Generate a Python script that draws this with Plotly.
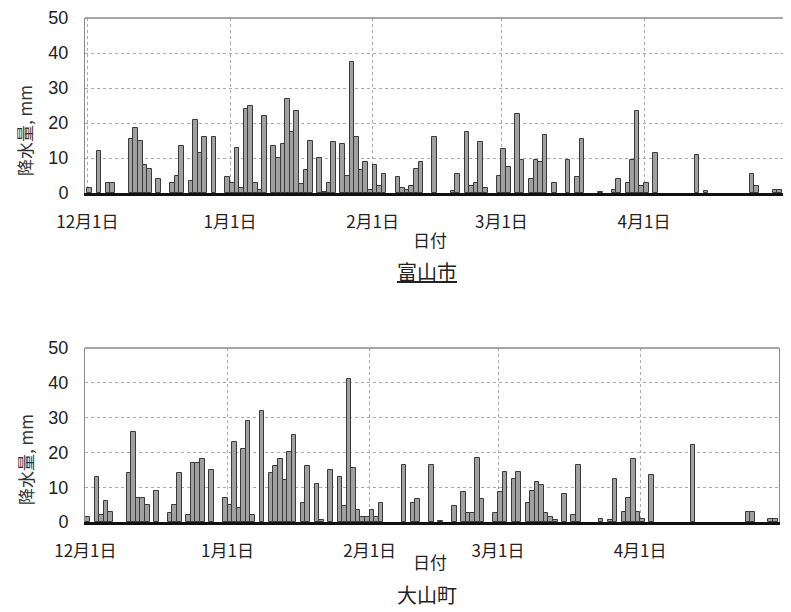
import plotly.graph_objects as go

# ---- data (daily precipitation, mm) ----
toyama_dates = [
    "2012-12-01", "2012-12-03", "2012-12-05", "2012-12-06", "2012-12-10", "2012-12-11",
    "2012-12-12", "2012-12-13", "2012-12-14", "2012-12-16", "2012-12-19", "2012-12-20",
    "2012-12-21", "2012-12-23", "2012-12-24", "2012-12-25", "2012-12-26", "2012-12-28",
    "2012-12-31", "2013-01-01", "2013-01-02", "2013-01-03", "2013-01-04", "2013-01-05",
    "2013-01-06", "2013-01-07", "2013-01-08", "2013-01-10", "2013-01-11", "2013-01-12",
    "2013-01-13", "2013-01-14", "2013-01-15", "2013-01-16", "2013-01-17", "2013-01-18",
    "2013-01-20", "2013-01-21", "2013-01-22", "2013-01-23", "2013-01-25", "2013-01-26",
    "2013-01-27", "2013-01-28", "2013-01-29", "2013-01-30", "2013-01-31", "2013-02-01",
    "2013-02-02", "2013-02-03", "2013-02-06", "2013-02-07", "2013-02-08", "2013-02-09",
    "2013-02-10", "2013-02-11", "2013-02-14", "2013-02-18", "2013-02-19", "2013-02-21",
    "2013-02-22", "2013-02-23", "2013-02-24", "2013-02-25", "2013-02-28", "2013-03-01",
    "2013-03-02", "2013-03-04", "2013-03-05", "2013-03-07", "2013-03-08", "2013-03-09",
    "2013-03-10", "2013-03-12", "2013-03-15", "2013-03-17", "2013-03-18", "2013-03-22",
    "2013-03-25", "2013-03-26", "2013-03-28", "2013-03-29", "2013-03-30", "2013-03-31",
    "2013-04-01", "2013-04-03", "2013-04-12", "2013-04-14", "2013-04-24", "2013-04-25",
    "2013-04-29", "2013-04-30",
]
toyama_mm = [
    1.5, 12, 3, 3, 15.5, 18.5,
    15, 8, 7, 4, 3, 5,
    13.5, 3.5, 21, 11.5, 16, 16,
    4.5, 3, 13, 1.5, 24, 25,
    3, 1, 22, 13.5, 10, 14,
    27, 17.5, 23.5, 2.5, 6.5, 15,
    10, 0.3, 3, 14.5, 14, 5,
    37.5, 16, 6.5, 9, 1, 8,
    2, 5.5, 4.5, 1.5, 1, 2,
    7, 9, 16, 0.5, 5.5, 17.5,
    2, 3, 14.5, 1.5, 5, 12.5,
    7.5, 22.5, 9.5, 4, 9.5, 9,
    16.5, 3, 9.5, 4.5, 15.5, 0.3,
    1, 4, 3, 9.5, 23.5, 2,
    3, 11.5, 11, 0.7, 5.5, 2,
    1, 1,
]

oyama_dates = [
    "2012-12-01", "2012-12-03", "2012-12-04", "2012-12-05", "2012-12-06", "2012-12-10",
    "2012-12-11", "2012-12-12", "2012-12-13", "2012-12-14", "2012-12-16", "2012-12-19",
    "2012-12-20", "2012-12-21", "2012-12-23", "2012-12-24", "2012-12-25", "2012-12-26",
    "2012-12-28", "2012-12-31", "2013-01-01", "2013-01-02", "2013-01-03", "2013-01-04",
    "2013-01-05", "2013-01-06", "2013-01-08", "2013-01-10", "2013-01-11", "2013-01-12",
    "2013-01-13", "2013-01-14", "2013-01-15", "2013-01-17", "2013-01-18", "2013-01-20",
    "2013-01-21", "2013-01-23", "2013-01-25", "2013-01-26", "2013-01-27", "2013-01-28",
    "2013-01-29", "2013-01-30", "2013-01-31", "2013-02-01", "2013-02-02", "2013-02-03",
    "2013-02-08", "2013-02-10", "2013-02-11", "2013-02-14", "2013-02-16", "2013-02-19",
    "2013-02-21", "2013-02-22", "2013-02-23", "2013-02-24", "2013-02-25", "2013-02-28",
    "2013-03-01", "2013-03-02", "2013-03-04", "2013-03-05", "2013-03-07", "2013-03-08",
    "2013-03-09", "2013-03-10", "2013-03-11", "2013-03-12", "2013-03-13", "2013-03-15",
    "2013-03-17", "2013-03-18", "2013-03-23", "2013-03-25", "2013-03-26", "2013-03-28",
    "2013-03-29", "2013-03-30", "2013-03-31", "2013-04-01", "2013-04-03", "2013-04-12",
    "2013-04-24", "2013-04-25", "2013-04-29", "2013-04-30",
]
oyama_mm = [
    1.5, 13, 2, 6, 3, 14,
    26, 7, 7, 5, 9, 2.7,
    5, 14, 2, 17, 17, 18,
    15, 7, 5, 23, 4, 21,
    29, 2, 32, 14, 16, 18,
    12, 20, 25, 5.5, 16, 11,
    0.5, 15, 13, 4.5, 41, 15.5,
    3.5, 1.5, 1.5, 3.5, 1.5, 5.5,
    16.5, 5.5, 6.5, 16.5, 0.3, 4.5,
    8.5, 2.5, 2.5, 18.5, 6.5, 2.5,
    8.5, 14.5, 12.5, 14.5, 5.5, 9,
    11.5, 10.5, 2.5, 1.5, 0.5, 8,
    2, 16.5, 1, 0.5, 12.5, 3,
    7, 18, 3, 1, 13.5, 22,
    3, 3, 1, 1,
]

tick_dates = ["2012-12-01", "2013-01-01", "2013-02-01", "2013-03-01", "2013-04-01"]
tick_labels = ["12月1日", "1月1日", "2月1日", "3月1日", "4月1日"]
y_ticks = [0, 10, 20, 30, 40, 50]
station_names = ["富山市", "大山町"]
y_title = "降水量, mm"
x_title = "日付"

# ---- figure ----
PAGE_OFF = 8                      # default body margin of the page
W, H = 791 - PAGE_OFF, 612 - PAGE_OFF
DAY_MS = 86400000
CJK = "Noto Sans CJK JP"
NUM = "Liberation Sans"

fig = go.Figure()
for i, (dates, vals) in enumerate([(toyama_dates, toyama_mm), (oyama_dates, oyama_mm)]):
    ax = "" if i == 0 else "2"
    fig.add_trace(go.Bar(
        x=dates, y=vals, width=DAY_MS, offset=0,
        marker=dict(color="#a0a0a0", line=dict(color="#3a3a3a", width=1)),
        xaxis="x" + ax, yaxis="y" + ax, showlegend=False,
        hovertemplate="%{x}: %{y} mm<extra></extra>",
    ))

def px_x(p):
    return (p - PAGE_OFF) / W

def px_y(p):
    return 1 - (p - PAGE_OFF) / H

panels = [
    dict(left=85, right=783, top=18, bottom=193,
         rng=["2012-11-30 11:30", "2013-05-01 05:00"],
         ytitle_y=131, xtitle_y=240, name_y=271, underline=True),
    dict(left=85, right=779, top=348, bottom=522,
         rng=["2012-11-30 22:00", "2013-05-01 07:00"],
         ytitle_y=460, xtitle_y=561, name_y=594, underline=False),
]

layout_axes = {}
annotations = []
shapes = []
for i, p in enumerate(panels):
    sfx = "" if i == 0 else "2"
    layout_axes["xaxis" + sfx] = dict(
        type="date", domain=[px_x(p["left"]), px_x(p["right"])], range=p["rng"],
        anchor="y" + sfx, tickvals=tick_dates, ticktext=tick_labels,
        tickfont=dict(family=CJK, size=17, color="#222"), ticks="",
        ticklabelstandoff=12, automargin=False,
        showgrid=True, gridcolor="#aaaaaa", griddash="dot", gridwidth=1,
        showline=True, linecolor="#111", linewidth=2.5, mirror=False,
        zeroline=False, fixedrange=True,
    )
    layout_axes["yaxis" + sfx] = dict(
        domain=[px_y(p["bottom"]), px_y(p["top"])], range=[0, 50],
        anchor="x" + sfx, tickvals=y_ticks,
        tickfont=dict(family=NUM, size=18, color="#222"), ticks="",
        ticklabelstandoff=12, automargin=False,
        showgrid=True, gridcolor="#aaaaaa", griddash="dot", gridwidth=1,
        showline=True, linecolor="#8a8a8a", linewidth=1, mirror=True,
        zeroline=False, fixedrange=True,
    )
    shapes.append(dict(type="line", xref="x" + sfx + " domain", yref="y" + sfx + " domain",
                       x0=0, x1=1, y0=1, y1=1, line=dict(color="#8a8a8a", width=1.5)))
    common = dict(xref="paper", yref="paper", showarrow=False,
                  xanchor="center", yanchor="middle", borderpad=0)
    annotations.append(dict(text=y_title, textangle=-90, x=px_x(25), y=px_y(p["ytitle_y"]),
                            font=dict(family=CJK, size=17, color="#333"), **common))
    annotations.append(dict(text=x_title, x=px_x(430), y=px_y(p["xtitle_y"]),
                            font=dict(family=CJK, size=17, color="#222"), **common))
    name = station_names[i]
    annotations.append(dict(text=("<u>%s</u>" % name) if p["underline"] else name,
                            x=px_x(427), y=px_y(p["name_y"]),
                            font=dict(family=CJK, size=20, color="#222"), **common))

fig.update_layout(
    width=W, height=H, margin=dict(l=0, r=0, t=0, b=0, autoexpand=False),
    paper_bgcolor="white", plot_bgcolor="white",
    bargap=0, barmode="overlay",
    annotations=annotations, shapes=shapes,
    **layout_axes,
)

fig.write_html("out.html", config={"displayModeBar": False})
